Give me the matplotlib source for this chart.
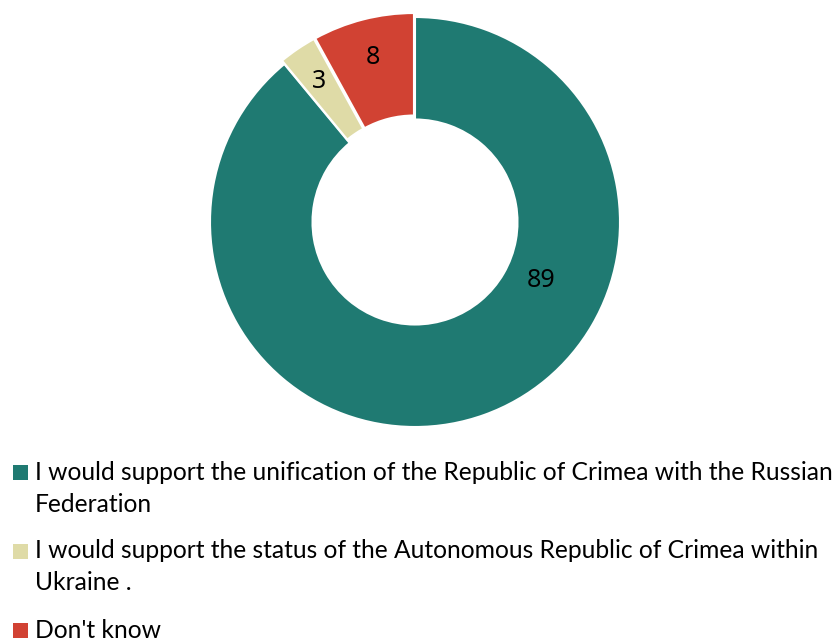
import matplotlib.pyplot as plt
import numpy as np
from matplotlib.patches import Rectangle

# survey answers, Crimea
categories = [
    'I would support the unification of the Republic of Crimea with the Russian\nFederation',
    'I would support the status of the Autonomous Republic of Crimea within\nUkraine .',
    "Don't know",
]
values = [89, 3, 8]
colors = ['#1F7A72', '#DFDBA7', '#D14233']

W, H = 838, 642
fig = plt.figure(figsize=(W / 100, H / 100), dpi=100)
# donut axes: centre ~ (415, 222) px, radius ~205 px
ax = fig.add_axes([210 / W, 215 / H, 410 / W, 410 / H])

wedges, _ = ax.pie(values, colors=colors, startangle=90, counterclock=False,
                   explode=[0, 0.02, 0.02], radius=1.0,
                   wedgeprops=dict(width=0.5, edgecolor='white', linewidth=1.5))
for w in wedges:
    w.set_clip_on(False)

ax.set_xlim(-1, 1)
ax.set_ylim(-1, 1)
ax.set_aspect('equal')
ax.axis('off')

# value labels
start = 90.0
for v in values:
    span = 360.0 * v / sum(values)
    mid = start - span / 2
    start -= span
    if v > 50:
        ang, r = -25.0, 0.68
    else:
        ang, r = mid, 0.83
    x = r * np.cos(np.radians(ang))
    y = r * np.sin(np.radians(ang))
    ax.text(x, y, str(v), ha='center', va='center', fontsize=18,
            family='Noto Sans', color='black')

# legend drawn by hand so the swatch sits on the first line
line_h = 32
y = 472
for lab, c in zip(categories, colors):
    fig.patches.append(Rectangle((13 / W, 1 - (y + 8) / H), 15 / W, 15 / H,
                                 transform=fig.transFigure, facecolor=c,
                                 edgecolor='none'))
    for k, line in enumerate(lab.split('\n')):
        fig.text(35 / W, 1 - (y + k * line_h) / H, line, ha='left',
                 va='center', family='Lato', fontsize=17.7, color='black')
    y += line_h * len(lab.split('\n')) + 15

plt.savefig('out.png', dpi=100)
